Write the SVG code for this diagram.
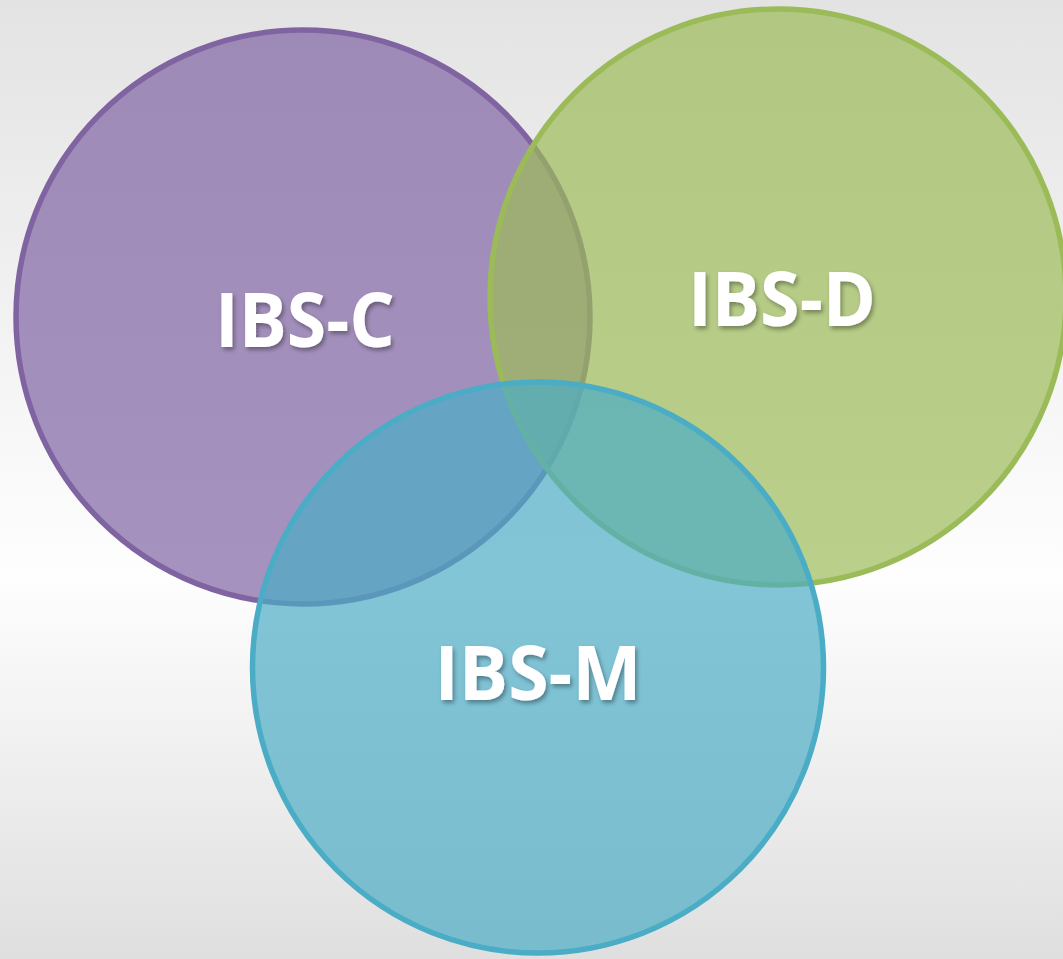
<svg xmlns="http://www.w3.org/2000/svg" width="1063" height="959" viewBox="0 0 1063 959">
  <defs>
    <linearGradient id="bg" x1="0" y1="0" x2="0" y2="1">
      <stop offset="0" stop-color="#e3e3e3"/>
      <stop offset="0.6" stop-color="#fefefe"/>
      <stop offset="1" stop-color="#dfdfdf"/>
    </linearGradient>
    <filter id="shadow" x="-10%" y="-20%" width="130%" height="150%">
      <feDropShadow dx="2" dy="3" stdDeviation="2" flood-color="#000" flood-opacity="0.35"/>
    </filter>
  </defs>
  <style>
    .ring { stroke-width: 5.5; }
    .label { font-family: "Open Sans", "Noto Sans", sans-serif; font-weight: bold; font-size: 76px; fill: #ffffff; text-anchor: middle; filter: url(#shadow); }
  </style>
  <rect x="0" y="0" width="1063" height="959" fill="url(#bg)"/>
  <g id="connectors"/>
  <g id="ibs-c">
    <circle class="ring" cx="303" cy="317" r="287" fill="#8064a2" fill-opacity="0.7" stroke="#8064a2"/>
  </g>
  <g id="ibs-d">
    <circle class="ring" cx="778" cy="297" r="288" fill="#9bbb59" fill-opacity="0.7" stroke="#9bbb59"/>
  </g>
  <g id="ibs-m">
    <circle class="ring" cx="538" cy="667.5" r="285.5" fill="#4bacc6" fill-opacity="0.7" stroke="#4bacc6"/>
  </g>
  <g id="labels">
    <text class="label" x="305" y="347" textLength="180" lengthAdjust="spacingAndGlyphs">IBS-C</text>
    <text class="label" x="782" y="326" textLength="188" lengthAdjust="spacingAndGlyphs">IBS-D</text>
    <text class="label" x="538" y="700" textLength="207" lengthAdjust="spacingAndGlyphs">IBS-M</text>
  </g>
</svg>
